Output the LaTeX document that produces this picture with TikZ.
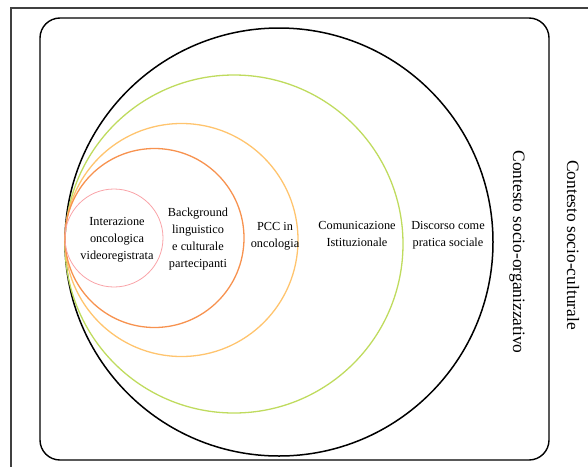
\documentclass[tikz,border=0pt]{standalone}
\usepackage{fontspec}
\setmainfont{Liberation Serif}
\usepackage{tikz}

\definecolor{ringgreen}{HTML}{BFDB5E}
\definecolor{ringlight}{HTML}{FFC46E}
\definecolor{ringorange}{HTML}{F7924F}
\definecolor{ringpink}{HTML}{F9A3A8}

\begin{document}
\begin{tikzpicture}[
    x=1pt, y=-1pt,
    ring/.style={circle, draw, inner sep=0pt, line width=1.3pt},
    lab/.style={align=center, font=\fontsize{12.3}{17}\selectfont},
    side/.style={rotate=-90, font=\fontsize{17.4}{20}\selectfont}
]

\clip (0,0) rectangle (588,466);
\useasboundingbox (0,0) rectangle (588,466);

% Frames
\draw[line width=1.6pt, black!75] (11,8) rectangle (600,480);
\draw[line width=1.4pt, rounded corners=20pt] (40,18) rectangle (549,460);

% Nested circles, tangent on the left
\node[ring, draw=black, line width=1.5pt, minimum size=428pt] (discorso) at (279,242) {};
\node[ring, draw=ringgreen, minimum size=338pt] (comunic) at (234,244) {};
\node[ring, draw=ringlight, minimum size=233pt] (pcc) at (181.5,240) {};
\node[ring, draw=ringorange, minimum size=179pt] (backgr) at (154.5,238) {};
\node[ring, draw=ringpink, line width=0.8pt, minimum size=98pt] (interaz) at (114,238) {};

% Labels
\node[lab] (interaz_t) at (117,240) {Interazione\\oncologica\\videoregistrata};
\node[lab] (backgr_t) at (198,239) {Background\\linguistico\\e culturale\\partecipanti};
\node[lab] (pcc_t) at (275,236) {PCC in\\oncologia};
\node[lab] (comunic_t) at (357,234) {Comunicazione\\Istituzionale};
\node[lab] (discorso_t) at (448,235) {Discorso come\\pratica sociale};

% Context labels
\node[side] (organizz) at (517,252) {Contesto socio-organizzativo};
\node[side] (culturale) at (573,245) {Contesto socio-culturale};

\end{tikzpicture}
\end{document}
